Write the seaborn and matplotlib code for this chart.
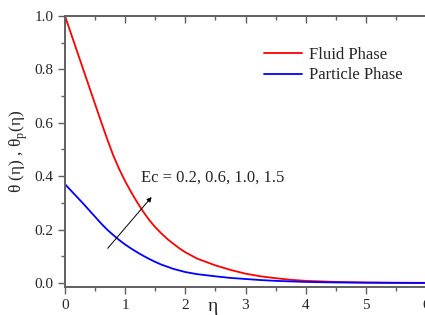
import matplotlib
matplotlib.use("Agg")
import matplotlib.pyplot as plt
import pandas as pd
import seaborn as sns
from matplotlib.ticker import MultipleLocator

# === Data ===
eta = [0.0, 0.1, 0.2, 0.3, 0.4, 0.5, 0.6, 0.7, 0.8, 0.9, 1.0, 1.1, 1.2, 1.3, 1.4, 1.5,
       1.6, 1.7, 1.8, 1.9, 2.0, 2.2, 2.5, 2.75, 3.0, 3.25, 3.5, 3.75, 4.0, 4.5, 5.0, 5.5, 6.0]
theta_fluid = [1.0, 0.934, 0.868, 0.802, 0.736, 0.670, 0.604, 0.540, 0.479, 0.427, 0.381,
               0.340, 0.302, 0.267, 0.236, 0.209, 0.186, 0.165, 0.147, 0.130, 0.115,
               0.091, 0.066, 0.049, 0.035, 0.025, 0.018, 0.012, 0.008, 0.004, 0.002,
               0.001, 0.0005]
theta_particle = [0.370, 0.346, 0.322, 0.298, 0.273, 0.248, 0.223, 0.200, 0.180, 0.161,
                  0.144, 0.129, 0.115, 0.102, 0.090, 0.079, 0.069, 0.061, 0.053, 0.047,
                  0.041, 0.033, 0.025, 0.019, 0.015, 0.011, 0.008, 0.006, 0.004, 0.002,
                  0.001, 0.0005, 0.0003]
series_names = ["Fluid Phase", "Particle Phase"]
series_colors = ["#ff0000", "#0000ff"]
annot_text = "Ec = 0.2, 0.6, 1.0, 1.5"

df = pd.DataFrame({
    "eta": eta * 2,
    "theta": theta_fluid + theta_particle,
    "phase": [series_names[0]] * len(eta) + [series_names[1]] * len(eta),
})

sns.set_style("ticks")
plt.rcParams["font.family"] = ["Liberation Serif", "DejaVu Serif"]
plt.rcParams["mathtext.fontset"] = "custom"
plt.rcParams["mathtext.rm"] = "Liberation Serif"

fig = plt.figure(figsize=(4.25, 3.15), dpi=100)
ax = fig.add_axes([65 / 425, 28 / 315, 361 / 425, 271 / 315])

sns.lineplot(data=df, x="eta", y="theta", hue="phase", palette=series_colors,
             ax=ax, linewidth=1.3)

ax.set_xlim(0, 6)
ax.set_ylim(-0.015, 1.0)
ax.xaxis.set_major_locator(MultipleLocator(1))
ax.xaxis.set_minor_locator(MultipleLocator(0.5))
ax.yaxis.set_major_locator(MultipleLocator(0.2))
ax.yaxis.set_minor_locator(MultipleLocator(0.1))
ax.yaxis.set_major_formatter(matplotlib.ticker.FormatStrFormatter("%.1f"))

for side in ["left", "bottom", "top"]:
    ax.spines[side].set_color("#606060")
    ax.spines[side].set_linewidth(1.4)
ax.spines["right"].set_visible(False)
ax.tick_params(which="both", direction="out", color="#606060", width=1.0,
               labelsize=11, top=False)
ax.tick_params(which="major", length=5)
ax.tick_params(which="minor", length=3)

# inward ticks on top spine
top = ax.secondary_xaxis("top")
top.xaxis.set_major_locator(MultipleLocator(1))
top.xaxis.set_minor_locator(MultipleLocator(0.5))
top.tick_params(which="both", direction="in", color="#606060", width=1.0, labeltop=False)
top.tick_params(which="major", length=5)
top.tick_params(which="minor", length=3)
top.spines["top"].set_visible(False)

ax.set_xlabel("η", fontsize=14)
ax.xaxis.set_label_coords(0.41, -0.04)
ax.set_ylabel(r"θ (η) , θ$_\mathregular{p}$(η)", fontsize=12.5, labelpad=3)

leg = ax.legend(loc="upper left", bbox_to_anchor=(0.51, 0.94), frameon=False,
                fontsize=12, handlelength=2.3, handletextpad=0.4, labelspacing=0.25)

ax.annotate("", xy=(1.47, 0.33), xytext=(0.68, 0.122),
            arrowprops=dict(arrowstyle="-|>", color="black", lw=0.7,
                            mutation_scale=7))
ax.text(1.26, 0.395, annot_text, fontsize=12, va="center", ha="left")

fig.savefig("out.png", dpi=100)
